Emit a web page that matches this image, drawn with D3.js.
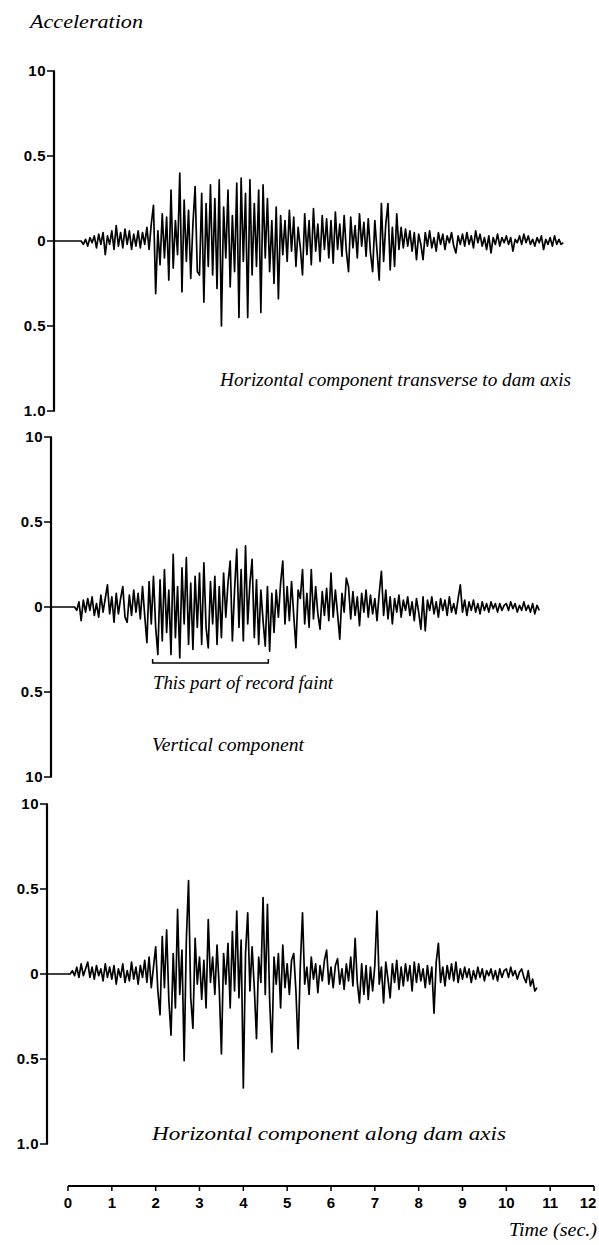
<!DOCTYPE html>
<html>
<head>
<meta charset="utf-8">
<script src="https://cdn.jsdelivr.net/npm/d3@7"></script>
<style>
  body { margin: 0; background: #fff; }
  .tick { font-family: "Liberation Sans", Arial, sans-serif; font-weight: bold; font-size: 15px; }
  .cap { font-family: "Liberation Serif", serif; font-style: italic; font-size: 18px; }
</style>
</head>
<body>
<script>
// sample step of the traced records (seconds)
const dt = 0.05

// acceleration (g), every 0.05 s, up = positive
const transverse = [
  0,0,0,0,0,0,0,-0.02,0.01,-0.03,0.02,-0.01,0.03,-0.04,0.04,-0.02,0.05,-0.08,0.03,-0.02,
  0.06,-0.05,0.09,-0.03,0.05,-0.04,0.07,-0.02,0.06,-0.05,0.04,-0.03,0.06,-0.04,0.05,-0.02,0.08,-0.05,0.10,0.21,
  -0.31,0.06,-0.14,0.16,-0.10,0.14,-0.23,0.30,-0.16,0.12,-0.08,0.40,-0.30,0.24,-0.12,0.18,-0.22,0.10,0.32,-0.18,
  -0.20,0.28,-0.36,0.22,-0.15,0.33,-0.20,0.25,-0.28,0.36,-0.50,0.20,-0.10,0.30,-0.27,0.15,-0.18,0.34,-0.45,0.37,
  -0.12,0.28,-0.45,0.36,-0.20,0.22,-0.15,0.30,-0.42,0.33,-0.10,0.25,-0.18,0.12,-0.25,0.20,-0.34,0.15,-0.08,0.12,
  -0.12,0.18,-0.06,0.14,-0.15,0.08,-0.04,-0.20,0.16,-0.08,0.12,-0.14,0.19,-0.06,0.10,-0.12,0.15,-0.05,0.13,-0.10,
  0.12,-0.13,0.17,-0.05,0.10,-0.09,0.15,-0.06,-0.18,0.14,-0.04,0.09,-0.10,0.16,-0.03,0.11,-0.09,0.13,-0.07,-0.18,
  0.12,-0.06,-0.23,0.22,-0.12,0.10,0.22,-0.17,0.08,-0.15,0.16,-0.05,0.08,-0.04,0.07,-0.03,0.06,-0.06,0.05,-0.11,
  0.04,-0.02,-0.11,0.05,-0.03,0.06,-0.04,0.02,-0.06,0.05,-0.02,0.04,-0.05,0.03,-0.01,0.05,-0.03,-0.07,0.03,-0.02,
  0.04,-0.03,0.05,-0.02,0.03,-0.04,0.06,-0.01,0.04,-0.03,0.02,-0.05,0.03,-0.07,0.02,-0.02,0.04,-0.03,0.02,-0.01,
  0.03,-0.02,0.02,-0.06,0.01,-0.01,0.03,-0.02,0.04,-0.01,0.03,-0.02,0.01,-0.03,0.02,-0.01,0.03,-0.05,0.01,-0.02,
  0.02,-0.03,0.03,-0.02,0.01,-0.02,-0.01
]

const vertical = [
  0,0,0,0,-0.02,0.03,-0.08,0.04,-0.03,0.05,-0.02,0.06,-0.05,0.02,-0.06,0.07,-0.03,0.05,0.13,-0.04,
  0.06,-0.09,0.08,-0.04,0.05,0.12,-0.06,-0.09,0.07,-0.05,0.10,-0.03,0.08,-0.07,0.12,-0.05,-0.21,0.15,-0.10,0.18,
  -0.12,-0.28,0.16,-0.20,0.22,-0.15,0.10,-0.28,0.31,-0.18,0.12,-0.30,0.23,-0.10,0.29,-0.22,0.14,-0.25,0.18,-0.12,
  0.20,-0.22,0.26,-0.12,-0.24,0.15,-0.10,0.18,-0.22,0.12,-0.18,0.20,-0.06,0.14,0.27,-0.20,0.10,0.34,-0.12,0.22,
  -0.20,0.36,-0.10,0.14,0.28,-0.18,0.16,-0.22,0.10,-0.08,-0.23,0.12,-0.26,0.08,-0.15,0.10,-0.06,0.14,0.27,-0.10,
  0.12,-0.08,0.15,-0.05,-0.24,0.10,0.05,0.22,-0.10,0.08,-0.12,0.22,-0.07,0.12,-0.04,-0.13,0.09,-0.05,0.11,-0.08,
  0.20,-0.06,0.10,-0.04,-0.19,0.08,-0.03,0.17,0.12,-0.07,0.09,-0.05,0.06,-0.11,0.08,-0.03,0.10,-0.06,0.07,-0.04,
  0.05,-0.08,0.08,0.21,-0.05,0.10,-0.07,0.06,-0.10,0.05,-0.03,0.07,-0.06,0.04,-0.02,0.06,-0.05,0.03,-0.08,0.05,
  -0.03,-0.13,0.06,-0.14,0.04,-0.02,0.06,-0.04,0.03,-0.06,0.05,-0.02,0.04,-0.05,0.06,-0.03,0.02,-0.04,0.05,0.13,
  -0.03,0.04,-0.05,0.03,-0.02,0.04,-0.03,0.02,-0.04,0.03,-0.02,0.02,-0.03,0.03,-0.01,0.02,-0.03,0.02,-0.02,0.01,
  0.02,-0.02,0.03,-0.01,0.02,-0.03,0.01,-0.02,0.03,-0.02,0.01,-0.03,0.02,-0.04,0.01,-0.02
]

const along = [
  0,0,0.02,-0.01,0.04,-0.02,0.06,-0.01,0.03,0.07,-0.02,0.04,-0.03,0.05,-0.01,0.03,-0.04,0.06,-0.02,0.04,
  -0.03,0.05,-0.06,0.03,-0.02,0.06,-0.05,0.02,-0.04,0.07,-0.03,0.04,-0.06,0.05,-0.02,0.08,-0.05,0.10,-0.08,0.04,
  0.16,-0.10,-0.24,0.22,-0.08,0.26,-0.15,-0.36,0.12,-0.20,0.38,-0.12,0.14,-0.51,0.20,0.55,-0.14,-0.32,0.21,-0.06,
  0.10,-0.15,0.08,-0.20,0.32,-0.05,0.10,-0.12,0.17,-0.08,-0.47,0.12,-0.06,0.18,-0.20,0.25,-0.10,0.37,-0.14,0.20,
  -0.67,0.12,0.36,-0.10,0.16,-0.08,-0.38,0.10,-0.05,0.45,-0.12,0.41,-0.15,-0.46,0.10,-0.06,0.12,-0.20,0.17,-0.08,
  0.06,-0.12,0.08,0.12,-0.10,-0.44,0.05,0.36,-0.06,0.04,-0.12,0.10,-0.03,0.06,-0.11,0.05,-0.04,0.08,0.14,-0.06,
  0.04,-0.08,0.05,0.09,-0.06,0.03,-0.09,0.06,-0.04,0.10,-0.07,0.21,-0.05,-0.17,0.06,-0.12,0.05,-0.15,0.04,-0.10,
  0.05,0.37,-0.06,0.04,-0.17,0.07,-0.03,-0.14,0.06,-0.05,0.08,-0.09,0.04,-0.07,0.06,-0.04,0.05,-0.10,0.07,-0.05,
  0.06,-0.04,0.03,-0.08,0.05,-0.06,0.04,-0.23,0.07,0.18,-0.05,0.04,-0.07,0.05,-0.03,0.06,-0.04,0.07,-0.05,0.03,
  -0.03,0.04,-0.02,0.03,-0.05,0.02,-0.03,0.04,-0.02,0.03,-0.04,0.02,-0.01,0.03,-0.03,0.02,-0.04,0.03,-0.02,0.02,
  0.03,-0.02,0.04,-0.01,0.02,-0.03,0.01,0.03,-0.02,-0.05,0.02,-0.07,-0.03,-0.10,-0.08
]

const timeTicks = [0, 1, 2, 3, 4, 5, 6, 7, 8, 9, 10, 11, 12]
const accTicks = [1, 0.5, 0, -0.5, -1]
const tickText1 = ['10', '0.5', '0', '0.5', '1.0']
const tickText2 = ['10', '0.5', '0', '0.5', '10']
const tickText3 = ['10', '0.5', '0', '0.5', '1.0']
const captions = [
  'Horizontal component transverse to dam axis',
  'Vertical component',
  'Horizontal component along dam axis'
]
const faintSpan = [1.93, 4.57]
const faintLevel = -0.33
const faintNote = 'This part of record faint'

const width = 599
const height = 1245
const svg = d3.select('body').append('svg')
  .attr('width', width)
  .attr('height', height)

const x = d3.scaleLinear().domain([0, 12]).range([68, 594])

const panels = [
  { values: transverse, ticks: tickText1, zero: 241, axisX: 54, cap: { x: 220, y: 386, w: 351 } },
  { values: vertical, ticks: tickText2, zero: 607, axisX: 51, cap: { x: 152, y: 751, w: 152 } },
  { values: along, ticks: tickText3, zero: 974, axisX: 47, cap: { x: 152, y: 1140, w: 354 } }
]

const line = d3.line().x(d => d[0]).y(d => d[1])

panels.forEach((p, k) => {
  const y = d3.scaleLinear().domain([-1, 1]).range([p.zero + 170, p.zero - 170])
  const g = svg.append('g')

  // y axis
  g.append('line')
    .attr('x1', p.axisX).attr('x2', p.axisX)
    .attr('y1', y(1)).attr('y2', y(-1))
    .attr('stroke', '#000').attr('stroke-width', 2.2)
  g.selectAll('.tk')
    .data(accTicks)
    .join('line')
    .attr('x1', p.axisX - 7).attr('x2', p.axisX + 1)
    .attr('y1', d => y(d)).attr('y2', d => y(d))
    .attr('stroke', '#000').attr('stroke-width', 1.5)
  g.selectAll('.tl')
    .data(accTicks)
    .join('text')
    .attr('class', 'tick')
    .attr('x', p.axisX - 8)
    .attr('y', d => y(d) + 5)
    .attr('text-anchor', 'end')
    .attr('letter-spacing', 0.5)
    .text((d, i) => p.ticks[i])

  // trace, starting flat at the axis
  const pts = [[p.axisX, y(0)]].concat(p.values.map((v, i) => [x(i * dt), y(v)]))
  g.append('path')
    .attr('d', line(pts))
    .attr('fill', 'none')
    .attr('stroke', '#000')
    .attr('stroke-width', 1.7)
    .attr('stroke-linejoin', 'round')

  g.append('text')
    .attr('class', 'cap')
    .attr('x', p.cap.x)
    .attr('y', p.cap.y)
    .attr('textLength', p.cap.w)
    .attr('lengthAdjust', 'spacingAndGlyphs')
    .text(captions[k])

  if (k === 1) {
    const by = y(faintLevel)
    g.append('path')
      .attr('d', line([[x(faintSpan[0]), by - 4], [x(faintSpan[0]), by], [x(faintSpan[1]), by], [x(faintSpan[1]), by - 4]]))
      .attr('fill', 'none')
      .attr('stroke', '#000')
      .attr('stroke-width', 1.5)
    g.append('text')
      .attr('class', 'cap')
      .attr('x', 153)
      .attr('y', 689)
      .attr('textLength', 180)
      .attr('lengthAdjust', 'spacingAndGlyphs')
      .text(faintNote)
  }
})

// title
svg.append('text')
  .attr('class', 'cap')
  .attr('x', 30).attr('y', 28)
  .attr('textLength', 113)
  .attr('lengthAdjust', 'spacingAndGlyphs')
  .text('Acceleration')

// time axis
const axisY = 1186
svg.append('line')
  .attr('x1', x(0)).attr('x2', x(12))
  .attr('y1', axisY).attr('y2', axisY)
  .attr('stroke', '#000').attr('stroke-width', 2)
svg.selectAll('.xt')
  .data(timeTicks)
  .join('line')
  .attr('x1', d => x(d)).attr('x2', d => x(d))
  .attr('y1', axisY).attr('y2', axisY + 5)
  .attr('stroke', '#000').attr('stroke-width', 1.5)
svg.selectAll('.xl')
  .data(timeTicks)
  .join('text')
  .attr('class', 'tick')
  .attr('x', d => Math.min(x(d), width - 11))
  .attr('y', axisY + 22)
  .attr('text-anchor', 'middle')
  .text(d => d)

svg.append('text')
  .attr('class', 'cap')
  .attr('x', 597).attr('y', 1236)
  .attr('text-anchor', 'end')
  .attr('textLength', 88)
  .attr('lengthAdjust', 'spacingAndGlyphs')
  .text('Time  (sec.)')
</script>
</body>
</html>
